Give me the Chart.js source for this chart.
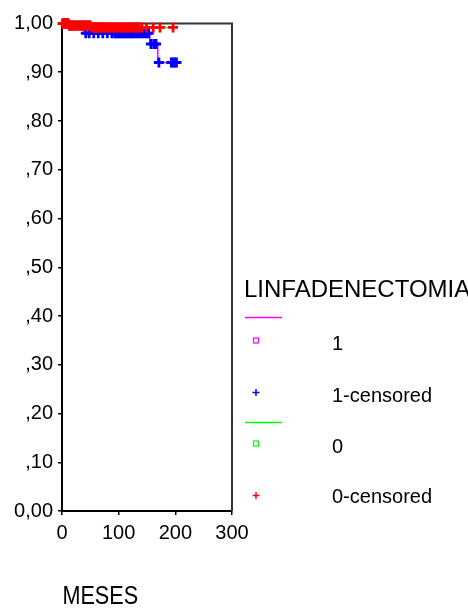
<!DOCTYPE html>
<html>
<head>
<meta charset="utf-8">
<script src="https://cdn.jsdelivr.net/npm/chart.js@4"></script>
<style>
  html, body { margin: 0; padding: 0; background: #fff; }
  #wrap { width: 468px; height: 608px; position: relative; }
</style>
</head>
<body>
<div id="wrap"><canvas id="km"></canvas></div>
<script>
// Kaplan-Meier steps, LINFADENECTOMIA = 1
const g1Times = [0, 38, 155, 169, 202];
const g1Surv  = [1.00, 0.98, 0.958, 0.92, 0.92];
const g1Censored = [3, 7, 42, 48, 56, 64, 72, 80, 88, 93, 96, 99, 102,
  105, 108, 111, 114, 117, 120, 123, 126, 130, 134, 138, 142, 146, 150, 153, 157, 162, 166,
  171, 193, 196, 199, 202];

// LINFADENECTOMIA = 0
const g0Times = [0, 12, 52, 196];
const g0Surv  = [1.00, 0.996, 0.992, 0.992];
const g0Censored = [1, 2, 3, 4, 5, 6, 7, 8, 9, 10, 11, 13, 14, 15, 16, 18, 20, 22, 24, 26, 28, 30,
  32, 34, 36, 38, 40, 42, 44, 46, 48, 50, 53, 55, 57, 59, 61, 63, 65, 67, 70, 72, 74, 77, 80, 83,
  86, 89, 92, 95, 98, 101, 104, 107, 110, 113, 116, 119, 122, 125, 128, 131, 134, 136, 141, 149,
  161, 173, 196];

const xTicks = [0, 100, 200, 300];
const yTicks = ['0,00', ',10', ',20', ',30', ',40', ',50', ',60', ',70', ',80', ',90', '1,00'];

const legendTitle = 'LINFADENECTOMIA';
const legendLabels = ['1', '1-censored', '0', '0-censored'];
const xTitle = 'MESES';

const FONT = '"Liberation Sans", Arial, sans-serif';

function stepPoints(times, surv) {
  return times.map((t, i) => ({ x: t, y: surv[i] }));
}

// survival value at time t (value of the step curve)
function survAt(times, surv, t) {
  let s = surv[0];
  for (let i = 0; i < times.length; i++) {
    if (times[i] <= t) s = surv[i];
  }
  return s;
}

function censorPoints(cens, times, surv) {
  return cens.map(t => ({ x: t, y: survAt(times, surv, t) }));
}

const framePlugin = {
  id: 'frame',
  beforeDatasetsDraw(chart) {
    const { ctx, chartArea: a } = chart;
    ctx.save();
    ctx.strokeStyle = '#333';
    ctx.lineWidth = 2;
    ctx.beginPath();
    ctx.moveTo(a.left, a.top);
    ctx.lineTo(a.right, a.top);
    ctx.lineTo(a.right, a.bottom);
    ctx.stroke();
    ctx.restore();
  },
  afterDraw(chart) {
    const ctx = chart.ctx;
    ctx.save();
    ctx.fillStyle = '#000';
    ctx.textBaseline = 'alphabetic';

    // x axis title, narrow like the original
    ctx.font = '26px ' + FONT;
    ctx.translate(62.5, 604);
    ctx.scale(0.83, 1);
    ctx.fillText(xTitle, 0, 0);
    ctx.setTransform(1, 0, 0, 1, 0, 0);

    // legend
    ctx.font = '24px ' + FONT;
    ctx.fillText(legendTitle, 244, 297);

    ctx.lineWidth = 1.5;
    ctx.strokeStyle = '#ff00ff';
    ctx.beginPath(); ctx.moveTo(245, 317.5); ctx.lineTo(282, 317.5); ctx.stroke();
    ctx.lineWidth = 1.2;
    ctx.strokeRect(253.5, 338, 5, 5);

    ctx.lineWidth = 1.5;
    ctx.strokeStyle = '#0000ff';
    ctx.beginPath();
    ctx.moveTo(252.5, 392.5); ctx.lineTo(259.5, 392.5);
    ctx.moveTo(256, 389); ctx.lineTo(256, 396);
    ctx.stroke();

    ctx.strokeStyle = '#00ff00';
    ctx.beginPath(); ctx.moveTo(245, 422.5); ctx.lineTo(282, 422.5); ctx.stroke();
    ctx.lineWidth = 1.2;
    ctx.strokeRect(253.5, 441, 5, 5);

    ctx.lineWidth = 1.5;
    ctx.strokeStyle = '#ff0000';
    ctx.beginPath();
    ctx.moveTo(252.5, 495.5); ctx.lineTo(259.5, 495.5);
    ctx.moveTo(256, 492); ctx.lineTo(256, 499);
    ctx.stroke();

    ctx.font = '20px ' + FONT;
    ctx.textBaseline = 'middle';
    const ys = [344, 396, 447, 497];
    legendLabels.forEach((t, i) => ctx.fillText(t, 332, ys[i]));
    ctx.restore();
  }
};

new Chart(document.getElementById('km'), {
  type: 'scatter',
  data: {
    datasets: [
      {
        label: '0-censored',
        data: censorPoints(g0Censored, g0Times, g0Surv),
        pointStyle: 'cross', pointRadius: 5, borderWidth: 2.8,
        borderColor: '#ff0000', backgroundColor: '#ff0000',
        clip: false, order: 0
      },
      {
        type: 'line', label: '0',
        data: stepPoints(g0Times, g0Surv),
        stepped: true, borderColor: '#00ff00', borderWidth: 1.5,
        pointRadius: 0, fill: false, clip: false, order: 1
      },
      {
        label: '1-censored',
        data: censorPoints(g1Censored, g1Times, g1Surv),
        pointStyle: 'cross', pointRadius: 5, borderWidth: 2.8,
        borderColor: '#0000ff', backgroundColor: '#0000ff',
        clip: false, order: 2
      },
      {
        type: 'line', label: '1',
        data: stepPoints(g1Times, g1Surv),
        stepped: true, borderColor: '#ff00ff', borderWidth: 1.5,
        pointRadius: 0, fill: false, clip: false, order: 3
      }
    ]
  },
  options: {
    responsive: true,
    maintainAspectRatio: false,
    animation: false,
    events: [],
    layout: { padding: { top: 23.5, right: 236, left: 0, bottom: 0 } },
    plugins: { legend: { display: false }, tooltip: { enabled: false } },
    scales: {
      x: {
        type: 'linear', min: 0, max: 300,
        afterBuildTicks(scale) { scale.ticks = xTicks.map(v => ({ value: v })); },
        afterFit(scale) { scale.height = 97; },
        grid: { drawOnChartArea: false, tickLength: 4, color: '#000', lineWidth: 1.5 },
        border: { display: true, color: '#000', width: 2 },
        ticks: { color: '#000', font: { family: FONT, size: 20 }, padding: 6, maxRotation: 0 }
      },
      y: {
        min: 0, max: 1,
        ticks: {
          stepSize: 0.1, color: '#000', padding: 5,
          font: { family: FONT, size: 20 },
          callback: (v) => yTicks[Math.round(v * 10)]
        },
        afterFit(scale) { scale.width = 62; },
        grid: { drawOnChartArea: false, tickLength: 4, color: '#000', lineWidth: 1.5 },
        border: { display: true, color: '#000', width: 2 }
      }
    }
  },
  plugins: [framePlugin]
});
</script>
</body>
</html>
